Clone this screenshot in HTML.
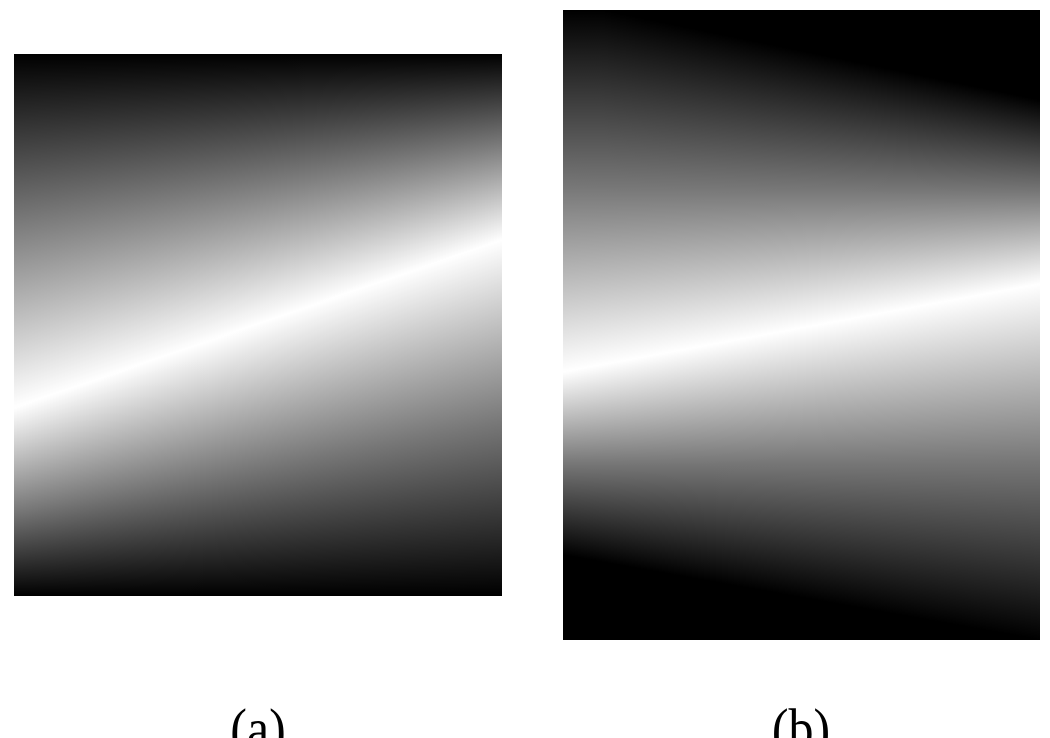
<!DOCTYPE html>
<html><head><meta charset="utf-8"><style>
html,body{margin:0;padding:0;background:#fff;width:1050px;height:738px;overflow:hidden}
svg{display:block}
text{font-family:"Liberation Serif",serif}
</style></head><body>
<svg id="s" width="1050" height="738" viewBox="0 0 1050 738">
<defs id="d"></defs>
<g id="pa"></g>
<g id="pb"></g>
<text x="258" y="748" font-size="50" text-anchor="middle" transform="translate(258 748) scale(1 1.15) translate(-258 -748)">(a)</text>
<text x="801" y="748" font-size="50" text-anchor="middle" transform="translate(801 748) scale(1 1.15) translate(-801 -748)">(b)</text>
</svg>
<script>
// panel specs: rect, bright-line y at left/right, dark-top boundary y left/right, dark-bottom boundary y left/right
const panelRects = [[14,54,488,542],[563,10,477,630]];
const lineLeft = [408,372];
const lineRight = [240,284];
const topLeft = [30,2];
const topRight = [44,100];
const botLeft = [616,555];
const botRight = [606,640];
const NS='http://www.w3.org/2000/svg';
const defs=document.getElementById('d');
const groups=[document.getElementById('pa'),document.getElementById('pb')];
let gid=0;
panelRects.forEach((r,p)=>{
  const [x0,y0,w,h]=r;
  const step=3;
  for(let x=0;x<w;x+=step){
    const t=(x+step/2)/w;
    const L=lineLeft[p]+(lineRight[p]-lineLeft[p])*t;
    const T=topLeft[p]+(topRight[p]-topLeft[p])*t;
    const B=botLeft[p]+(botRight[p]-botLeft[p])*t;
    const g=document.createElementNS(NS,'linearGradient');
    const id='g'+(gid++);
    g.setAttribute('id',id);
    g.setAttribute('gradientUnits','userSpaceOnUse');
    g.setAttribute('x1',0);g.setAttribute('x2',0);
    g.setAttribute('y1',y0);g.setAttribute('y2',y0+h);
    const off=v=>Math.max(0,Math.min(1,(v-y0)/h));
    const stops=[[off(T),'#000'],[off(T+(L-T)*0.5),'#777'],[off(L),'#fff'],[off(L+(B-L)*0.5),'#777'],[off(B),'#000']];
    stops.forEach(s=>{const st=document.createElementNS(NS,'stop');st.setAttribute('offset',s[0]);st.setAttribute('stop-color',s[1]);g.appendChild(st);});
    defs.appendChild(g);
    const rc=document.createElementNS(NS,'rect');
    
    
    rc.setAttribute('x',x0+x);rc.setAttribute('y',y0);
    rc.setAttribute('width',Math.min(step+0.6,w-x));rc.setAttribute('height',h);
    rc.setAttribute('fill','url(#'+id+')');
    groups[p].appendChild(rc);
  }
});
</script>
</body></html>
